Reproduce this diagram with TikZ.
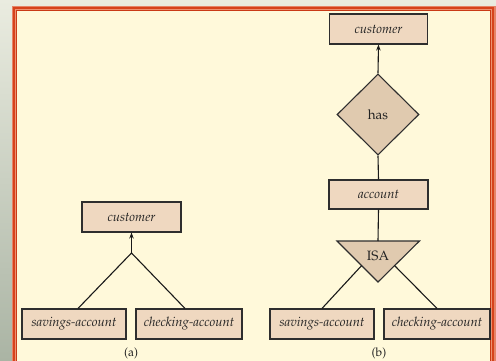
\documentclass[tikz,border=0pt]{standalone}
\usepackage[T1]{fontenc}
\renewcommand{\rmdefault}{ppl}
\usetikzlibrary{shapes.geometric,arrows.meta,calc}

\definecolor{paper}{HTML}{FFF9DA}
\definecolor{bgtop}{HTML}{EAECE0}
\definecolor{bgbot}{HTML}{AAB4A4}
\definecolor{rimlight}{HTML}{E58468}
\definecolor{rimdark}{HTML}{D6431C}
\definecolor{rimmid}{HTML}{EE9272}
\definecolor{riminner}{HTML}{C93A16}
\definecolor{boxfill}{HTML}{EFD8C0}
\definecolor{relfill}{HTML}{E0CAAF}
\definecolor{edge}{HTML}{2E2E2E}
\definecolor{ink}{HTML}{222222}

\begin{document}
\begin{tikzpicture}[x=1pt,y=-1pt,
  entity/.style={draw=edge, line width=1.1pt, fill=boxfill, inner sep=0pt,
    minimum height=30pt, text=ink, font=\fontsize{13}{15}\selectfont\itshape},
  relation/.style={diamond, draw=edge, line width=1.1pt, fill=relfill,
    inner sep=0pt, minimum width=82pt, minimum height=81pt, text=ink,
    font=\fontsize{13.5}{15}\selectfont},
  isatext/.style={inner sep=0pt, text=ink, font=\fontsize{13.5}{15}\selectfont},
  caption/.style={inner sep=0pt, text=ink, font=\fontsize{12}{14}\selectfont},
  link/.style={draw=black!90, line width=1.1pt},
  tolink/.style={link, -{Stealth[length=6pt,width=4.5pt]}}]

\useasboundingbox (0,0) rectangle (496,361);

% backdrop and framed panel
\shade[top color=bgtop, bottom color=bgbot] (0,0) rectangle (496,361);
\fill[rimlight] (12,6) rectangle (495.5,370);
\fill[rimdark] (13.3,7) rectangle (494.3,370);
\fill[rimmid] (15.3,9) rectangle (492.3,370);
\fill[riminner] (16.3,10) rectangle (491.3,370);
\fill[paper] (17.4,11.2) rectangle (490.2,370);

% (a) customer generalised from two account kinds
\node[entity, minimum width=99pt] (acust) at (131.5,217) {customer};
\node[entity, minimum width=104pt] (asav) at (74,324) {savings-account};
\node[entity, minimum width=106pt] (achk) at (189,324) {checking-account};
\coordinate (apex) at (131.5,253);
\draw[link, line join=miter] ([xshift=4pt]asav.north) -- (apex) -- ([xshift=-4pt]achk.north);
\draw[tolink] (apex) -- (acust.south);
\node[caption] (capa) at (131,353) {(a)};

% (b) customer has account, account specialised via ISA
\node[entity, minimum width=98pt] (bcust) at (378.5,29) {customer};
\node[relation] (has) at (378,114.5) {has};
\node[entity, minimum width=99pt, minimum height=29pt] (bacc) at (378.5,194.5) {account};
\coordinate (isaL) at (337,241);
\coordinate (isaR) at (419.5,241);
\coordinate (isaB) at (378,282);
\coordinate (isaT) at (378,241);
\filldraw[draw=edge, fill=relfill, line width=1.1pt, line join=miter]
  (isaL) -- (isaR) -- (isaB) -- cycle;
\node[isatext] (isa) at (378,256) {ISA};
\node[entity, minimum width=104pt] (bsav) at (322,324) {savings-account};
\node[entity, minimum width=106pt] (bchk) at (437,324) {checking-account};

\draw[tolink] (has.north) -- (bcust.south);
\draw[link] (has.south) -- (bacc.north);
\draw[link] (bacc.south) -- (isaT);
\draw[link] ($(isaL)!0.6!(isaB)$) -- (bsav.north);
\draw[link] ($(isaR)!0.6!(isaB)$) -- (bchk.north);
\node[caption] (capb) at (379,353) {(b)};
\end{tikzpicture}
\end{document}
